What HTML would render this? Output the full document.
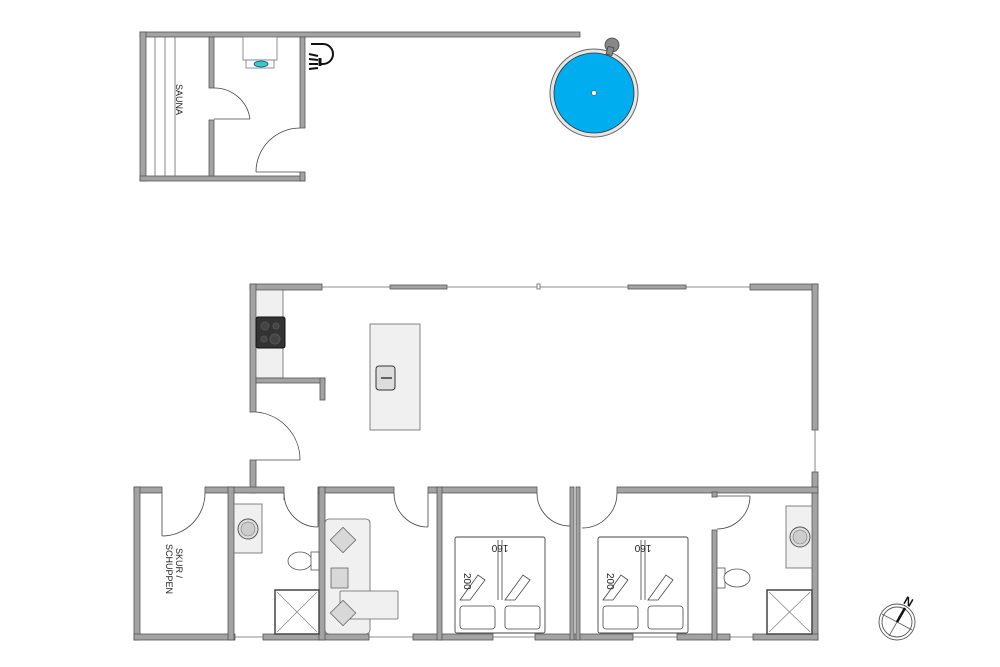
<!DOCTYPE html>
<html><head><meta charset="utf-8"><style>html,body{margin:0;padding:0;background:#fff}svg{display:block}</style></head>
<body>
<svg width="1000" height="667" viewBox="0 0 1000 667" xmlns="http://www.w3.org/2000/svg" font-family="Liberation Sans, sans-serif">
<defs>
<style>
.w{fill:#a3a3a3;stroke:#555;stroke-width:0.8}
.d{fill:none;stroke:#444;stroke-width:0.8}
.f{fill:#f0f0f0;stroke:#666;stroke-width:0.8}
.win{stroke:#666;stroke-width:0.8;fill:#fff}
</style>
</defs>
<!-- SAUNA BUILDING -->
<rect class="w" x="140" y="32" width="440" height="5"/>
<rect class="w" x="140" y="32" width="6" height="149"/>
<rect class="w" x="140" y="176" width="165" height="5"/>
<rect class="w" x="300" y="37" width="5" height="91"/>
<rect class="w" x="300" y="172" width="5" height="9"/>
<rect class="w" x="209" y="37" width="5" height="51"/>
<rect class="w" x="209" y="120" width="5" height="56"/>
<line x1="155" y1="37" x2="155" y2="176" stroke="#666" stroke-width="0.8"/>
<line x1="165" y1="37" x2="165" y2="176" stroke="#666" stroke-width="0.8"/>
<line x1="175" y1="37" x2="175" y2="176" stroke="#666" stroke-width="0.8"/>
<text x="0" y="0" font-size="9" transform="translate(176,84) rotate(90)" fill="#222">SAUNA</text>
<!-- sauna door -->
<line x1="214" y1="119" x2="250" y2="119" class="d"/>
<path d="M250 119 A36 36 0 0 0 214 88" class="d"/>
<!-- bathroom door -->
<line x1="256" y1="172" x2="300" y2="172" class="d"/>
<path d="M256 172 A44 44 0 0 1 300 128" class="d"/>
<!-- sink -->
<rect x="243" y="37" width="34" height="23" fill="#fff" stroke="#777" stroke-width="0.8"/>
<rect x="246" y="60" width="28" height="8" fill="#fff" stroke="#777" stroke-width="0.8"/>
<ellipse cx="261" cy="64" rx="7" ry="3" fill="#3cc" stroke="#246" stroke-width="0.8"/>
<!-- shower icon -->
<g stroke="#111" fill="none" stroke-width="2">
<path d="M311 44 h12 a10 10 0 0 1 0 20 h-2"/>
<path d="M320 58 v8" stroke-width="3"/>
<line x1="309" y1="54" x2="318" y2="56"/><line x1="309" y1="59" x2="318" y2="60"/><line x1="309" y1="64" x2="318" y2="64"/><line x1="309" y1="69" x2="318" y2="68"/>
</g>
<!-- pool -->
<circle cx="594" cy="93" r="44" fill="#e6e6e6" stroke="#666" stroke-width="1"/>
<circle cx="594" cy="93" r="40" fill="#00aeef" stroke="#333" stroke-width="0.8"/>
<circle cx="594" cy="93" r="2.5" fill="#fff" stroke="#333" stroke-width="0.5"/>
<circle cx="612" cy="45" r="7" fill="#888" stroke="#444" stroke-width="0.8"/>
<rect x="607" y="47" width="6" height="8" fill="#888" stroke="#444" stroke-width="0.8" transform="rotate(15 610 51)"/>

<!-- MAIN HOUSE top wall with windows -->
<rect class="w" x="250" y="284" width="72" height="6"/>
<rect class="w" x="390" y="285" width="57" height="4"/>
<rect class="w" x="628" y="285" width="58" height="4"/>
<rect class="w" x="750" y="284" width="68" height="6"/>
<line x1="322" y1="287" x2="390" y2="287" class="win"/>
<line x1="447" y1="287" x2="628" y2="287" class="win"/>
<line x1="686" y1="287" x2="750" y2="287" class="win"/>
<rect x="537" y="284" width="3" height="5" class="win"/>
<!-- left wall -->
<rect class="w" x="250" y="284" width="6" height="128"/>
<rect class="w" x="250" y="460" width="6" height="33"/>
<!-- right wall -->
<rect class="w" x="812" y="284" width="6" height="146"/>
<line x1="815" y1="430" x2="815" y2="472" class="win"/>
<rect class="w" x="812" y="472" width="6" height="168"/>
<!-- kitchen -->
<rect class="f" x="256" y="290" width="27" height="88"/>
<rect x="256" y="317" width="29" height="31" rx="2" fill="#333" stroke="#111"/>
<circle cx="265" cy="326" r="4" fill="#444" stroke="#555"/><circle cx="276" cy="326" r="3" fill="#444" stroke="#555"/>
<circle cx="264" cy="339" r="3" fill="#444" stroke="#555"/><circle cx="275" cy="339" r="5" fill="#444" stroke="#555"/>
<rect class="w" x="256" y="378" width="69" height="5"/>
<rect class="w" x="320" y="378" width="5" height="22"/>
<rect class="f" x="370" y="324" width="50" height="106"/>
<rect x="376" y="366" width="19" height="24" rx="3" fill="#ddd" stroke="#333" stroke-width="1"/>
<line x1="381" y1="378" x2="392" y2="378" stroke="#111" stroke-width="1.2"/>
<!-- entry door -->
<line x1="256" y1="460" x2="300" y2="460" class="d"/>
<path d="M300 460 A48 48 0 0 0 256 412" class="d"/>

<!-- BOTTOM ROW top wall -->
<rect class="w" x="134" y="487" width="28" height="6"/>
<rect class="w" x="205" y="487" width="79" height="6"/>
<rect class="w" x="318" y="487" width="76" height="6"/>
<rect class="w" x="428" y="487" width="109" height="6"/>
<rect class="w" x="617" y="487" width="201" height="6"/>
<!-- outer left / bottom -->
<rect class="w" x="134" y="487" width="6" height="153"/>
<rect class="w" x="134" y="634" width="101" height="6"/>
<rect class="w" x="263" y="634" width="106" height="6"/>
<rect class="w" x="413" y="634" width="80" height="6"/>
<rect class="w" x="535" y="634" width="98" height="6"/>
<rect class="w" x="677" y="634" width="53" height="6"/>
<rect class="w" x="753" y="634" width="65" height="6"/>
<line x1="235" y1="637" x2="263" y2="637" class="win"/>
<line x1="369" y1="637" x2="413" y2="637" class="win"/>
<line x1="493" y1="637" x2="535" y2="637" class="win"/>
<line x1="633" y1="637" x2="677" y2="637" class="win"/>
<line x1="730" y1="637" x2="753" y2="637" class="win"/>
<!-- interior verticals -->
<rect class="w" x="228" y="487" width="6" height="153"/>
<rect class="w" x="319" y="487" width="6" height="153"/>
<rect class="w" x="437" y="487" width="5" height="153"/>
<rect class="w" x="570" y="487" width="4" height="153"/>
<rect class="w" x="576" y="487" width="4" height="153"/>
<rect class="w" x="712" y="530" width="5" height="110"/>
<rect class="w" x="712" y="492" width="5" height="5"/>
<!-- doors bottom row -->
<line x1="162" y1="493" x2="162" y2="536" class="d"/><path d="M162 536 A43 43 0 0 0 205 493" class="d"/>
<line x1="284" y1="493" x2="284" y2="500" class="d"/><path d="M284 493 A34 34 0 0 0 318 527" class="d"/><line x1="318" y1="493" x2="318" y2="527" class="d"/>
<path d="M394 493 A34 34 0 0 0 428 527" class="d"/><line x1="428" y1="493" x2="428" y2="527" class="d"/>
<path d="M537 493 A33 33 0 0 0 570 526" class="d"/>
<path d="M617 493 A35 35 0 0 1 582 528" class="d"/>
<line x1="717" y1="496" x2="750" y2="496" class="d"/><path d="M750 496 A33 33 0 0 1 717 529" class="d"/>
<!-- SKUR text -->
<g transform="translate(176,548) rotate(90)" font-size="9" fill="#222">
<text x="0" y="0">SKUR /</text><text x="-4" y="10">SCHUPPEN</text></g>
<!-- bath 1 -->
<rect class="f" x="234" y="504" width="28" height="49"/>
<circle cx="248" cy="529" r="10" fill="#ddd" stroke="#555"/><circle cx="248" cy="529" r="7" fill="#ccc" stroke="#777" stroke-width="0.6"/>
<ellipse cx="300" cy="561" rx="12" ry="9" fill="#fff" stroke="#555" stroke-width="0.8"/>
<rect x="311" y="552" width="8" height="18" fill="#fff" stroke="#555" stroke-width="0.8"/>
<rect x="275" y="590" width="44" height="44" fill="#fff" stroke="#444" stroke-width="1.5"/>
<line x1="277" y1="592" x2="317" y2="632" stroke="#777" stroke-width="0.6"/><line x1="317" y1="592" x2="277" y2="632" stroke="#777" stroke-width="0.6"/>
<!-- sofa -->
<rect class="f" x="325" y="519" width="45" height="115" rx="4"/>
<rect class="f" x="340" y="591" width="58" height="28" rx="1"/>
<rect x="334" y="531" width="18" height="18" fill="#d8d8d8" stroke="#666" stroke-width="0.8" transform="rotate(45 343 540)"/>
<rect x="331" y="568" width="17" height="20" fill="#d8d8d8" stroke="#666" stroke-width="0.8"/>
<rect x="334" y="604" width="18" height="18" fill="#d8d8d8" stroke="#666" stroke-width="0.8" transform="rotate(45 343 613)"/>
<!-- beds -->
<g id="bed1">
<rect x="455" y="537" width="90" height="96" fill="#fff" stroke="#444" stroke-width="0.9" rx="2"/>
<line x1="498" y1="540" x2="498" y2="600" stroke="#444" stroke-width="0.8"/>
<line x1="502" y1="540" x2="502" y2="600" stroke="#444" stroke-width="0.8"/>
<path d="M460 600 L478 575 L485 580 L470 600 Z" fill="#fff" stroke="#444" stroke-width="0.8"/>
<path d="M505 600 L523 575 L530 580 L515 600 Z" fill="#fff" stroke="#444" stroke-width="0.8"/>
<rect x="460" y="606" width="35" height="23" rx="3" fill="#fff" stroke="#444" stroke-width="0.8"/>
<rect x="505" y="606" width="35" height="23" rx="3" fill="#fff" stroke="#444" stroke-width="0.8"/>
</g>
<text transform="translate(500,545) rotate(180)" font-size="10" text-anchor="middle" fill="#222">160</text>
<text transform="translate(464,573) rotate(90)" font-size="10" fill="#222">200</text>
<use href="#bed1" x="143"/>
<text transform="translate(643,545) rotate(180)" font-size="10" text-anchor="middle" fill="#222">160</text>
<text transform="translate(607,573) rotate(90)" font-size="10" fill="#222">200</text>
<!-- bath 2 -->
<rect class="f" x="786" y="506" width="26" height="62"/>
<circle cx="800" cy="537" r="10" fill="#ddd" stroke="#555"/><circle cx="800" cy="537" r="7" fill="#ccc" stroke="#777" stroke-width="0.6"/>
<rect x="717" y="568" width="8" height="20" fill="#fff" stroke="#555" stroke-width="0.8"/>
<ellipse cx="737" cy="578" rx="13" ry="9" fill="#fff" stroke="#555" stroke-width="0.8"/>
<rect x="767" y="590" width="45" height="44" fill="#fff" stroke="#444" stroke-width="1.5"/>
<line x1="769" y1="592" x2="810" y2="632" stroke="#777" stroke-width="0.6"/><line x1="810" y1="592" x2="769" y2="632" stroke="#777" stroke-width="0.6"/>
<!-- compass -->
<circle cx="897" cy="622" r="18" fill="none" stroke="#555" stroke-width="0.9"/>
<circle cx="897" cy="622" r="15" fill="none" stroke="#555" stroke-width="0.9"/>
<line x1="882" y1="614" x2="912" y2="630" stroke="#555" stroke-width="0.8"/>
<line x1="889" y1="636" x2="905" y2="608" stroke="#555" stroke-width="0.8"/>
<line x1="897" y1="622" x2="905" y2="608" stroke="#111" stroke-width="2.5"/>
<text x="904" y="606" font-size="12" font-weight="bold" transform="rotate(30 909 602)" fill="#111">N</text>
</svg>
</body></html>
